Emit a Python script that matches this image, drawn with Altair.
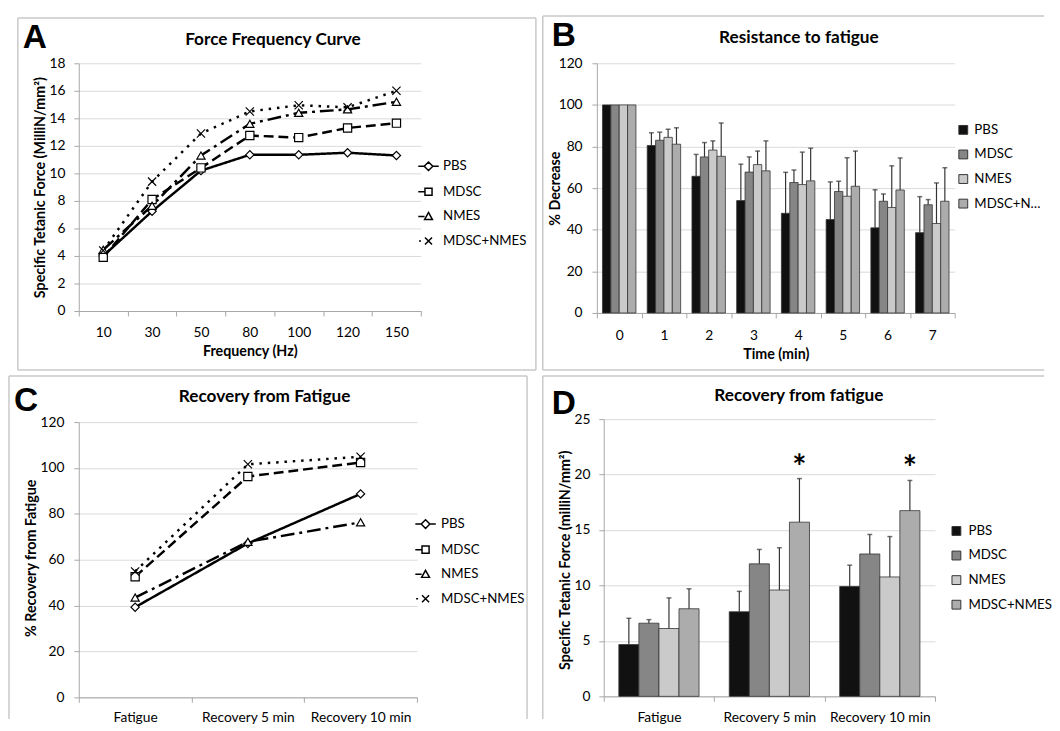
import altair as alt
import pandas as pd

FONT = "Lato"
LETTER_FONT = "Liberation Sans"
AXIS_GRAY = "#a6a6a6"
GRID_GRAY = "#d9d9d9"
FRAME_GRAY = "#c8c8c8"
INK = "#333333"

SERIES = ["PBS", "MDSC", "NMES", "MDSC+NMES"]

# ---------------- Panel A : Force Frequency Curve ----------------
A_FREQ = ["10", "30", "50", "80", "100", "120", "150"]
A_PBS = [4.0, 7.25, 10.2, 11.35, 11.35, 11.5, 11.3]
A_MDSC = [3.9, 8.1, 10.4, 12.75, 12.6, 13.3, 13.65]
A_NMES = [4.45, 7.65, 11.3, 13.6, 14.4, 14.65, 15.2]
A_COMBO = [4.4, 9.4, 12.9, 14.5, 14.95, 14.8, 16.0]

# ---------------- Panel B : Resistance to fatigue ----------------
B_TIME = ["0", "1", "2", "3", "4", "5", "6", "7"]
B_PBS = [100, 80.5, 65.7, 54.0, 47.9, 44.9, 40.9, 38.6]
B_PBS_SD = [0, 6.1, 10.5, 17.5, 19.7, 18.1, 18.3, 17.3]
B_MDSC = [100, 83.0, 75.0, 67.7, 62.7, 58.4, 53.7, 52.0]
B_MDSC_SD = [0, 3.9, 6.9, 7.3, 6.0, 4.9, 3.5, 2.5]
B_NMES = [100, 84.4, 78.3, 71.3, 61.7, 56.1, 50.7, 43.0]
B_NMES_SD = [0, 3.9, 4.4, 6.5, 15.6, 18.5, 20.0, 19.5]
B_COMBO = [100, 81.1, 75.3, 68.3, 63.5, 60.9, 59.1, 53.7]
B_COMBO_SD = [0, 7.9, 16.0, 14.4, 15.7, 16.9, 15.4, 16.1]

# ---------------- Panel C : Recovery from Fatigue (%) ----------------
C_PHASE = ["Fatigue", "Recovery 5 min", "Recovery 10 min"]
C_PBS = [39.3, 67.1, 88.7]
C_MDSC = [52.6, 96.3, 102.4]
C_NMES = [43.5, 67.8, 76.3]
C_COMBO = [54.9, 101.6, 104.9]

# ---------------- Panel D : Recovery from fatigue (force) ----------------
D_PHASE = ["Fatigue", "Recovery 5 min", "Recovery 10 min"]
D_PBS = [4.67, 7.63, 9.91]
D_PBS_SD = [2.37, 1.84, 1.92]
D_MDSC = [6.6, 11.95, 12.84]
D_MDSC_SD = [0.32, 1.30, 1.76]
D_NMES = [6.12, 9.59, 10.77]
D_NMES_SD = [2.76, 3.81, 3.64]
D_COMBO = [7.9, 15.71, 16.75]
D_COMBO_SD = [1.80, 3.93, 2.72]
D_COMBO_STAR = ["", "*", "*"]

BAR_COLORS = ["#111111", "#868686", "#cacaca", "#acacac"]
DASHES = [[1, 0], [10, 5], [14, 5, 3, 5], [2.5, 6]]
POINT_SHAPES = ["diamond", "square", "triangle-up", "M-1,-1L1,1M1,-1L-1,1"]
LEGEND_PATHS = [
    "M-2.6,0H-1.1M1.1,0H2.6M0,-1.1L1.1,0L0,1.1L-1.1,0Z",
    "M-2.6,0H-0.9M-0.9,-0.9H0.9V0.9H-0.9Z",
    "M-2.6,0H-1M0,-1L1,0.8H-1Z",
    "M-2.4,0H-1.9M-0.9,-0.9L0.9,0.9M0.9,-0.9L-0.9,0.9",
]

TICK_FS = 14
LEG_FS = 13.5
TITLE_FS = 17.5
AXT_FS = 14.5


def long_frame(cat_name, cats, values, sds=None):
    rows = []
    for i, s in enumerate(SERIES):
        for j, c in enumerate(cats):
            r = {cat_name: c, "series": s, "value": values[i][j]}
            if sds is not None:
                r["sd"] = sds[i][j]
            rows.append(r)
    return pd.DataFrame(rows)


dfA = long_frame("freq", A_FREQ, [A_PBS, A_MDSC, A_NMES, A_COMBO])
dfB = long_frame("time", B_TIME, [B_PBS, B_MDSC, B_NMES, B_COMBO],
                 [B_PBS_SD, B_MDSC_SD, B_NMES_SD, B_COMBO_SD])
dfC = long_frame("phase", C_PHASE, [C_PBS, C_MDSC, C_NMES, C_COMBO])
dfD = long_frame("phase", D_PHASE, [D_PBS, D_MDSC, D_NMES, D_COMBO],
                 [D_PBS_SD, D_MDSC_SD, D_NMES_SD, D_COMBO_SD])
dfStar = pd.DataFrame({"phase": D_PHASE, "series": SERIES[3], "value": D_COMBO,
                       "sd": D_COMBO_SD, "star": D_COMBO_STAR})

ONE = pd.DataFrame({"k": [0]})


def frame(left, top, right, bottom, sides):
    base = alt.Chart(ONE).mark_rule(color=FRAME_GRAY, strokeWidth=1.5)
    out = []
    if "top" in sides:
        out.append(base.encode(x=alt.value(left), x2=alt.value(right), y=alt.value(top)))
    if "bottom" in sides:
        out.append(base.encode(x=alt.value(left), x2=alt.value(right), y=alt.value(bottom)))
    if "left" in sides:
        out.append(base.encode(x=alt.value(left), y=alt.value(top), y2=alt.value(bottom)))
    if "right" in sides:
        out.append(base.encode(x=alt.value(right), y=alt.value(top), y2=alt.value(bottom)))
    return out


def text_at(text, x, y, size, font=FONT, align="left"):
    return alt.Chart(ONE).mark_text(
        text=text, font=font, fontSize=size, fontWeight="bold", align=align,
        baseline="alphabetic", color="black"
    ).encode(x=alt.value(x), y=alt.value(y))


def x_axis(label_pad, title_y=None):
    kw = dict(tickBand="extent", grid=False, domainColor=AXIS_GRAY, tickColor=AXIS_GRAY,
              tickSize=5, labelAngle=0, labelFont=FONT, labelFontSize=TICK_FS, labelColor="black",
              labelPadding=label_pad, titleFont=FONT, titleFontSize=AXT_FS, titleFontWeight="bold",
              titleColor="black")
    if title_y is not None:
        kw.update(titleY=title_y, titleBaseline="alphabetic")
    return alt.Axis(**kw)


def y_axis(values, label_pad, title_x, title_y):
    return alt.Axis(values=values, grid=True, gridColor=GRID_GRAY, domainColor=AXIS_GRAY,
                    tickColor=AXIS_GRAY, tickSize=5, labelFont=FONT, labelFontSize=TICK_FS,
                    labelColor="black", labelPadding=label_pad, titleFont=FONT,
                    titleFontSize=AXT_FS, titleFontWeight="bold", titleColor="black",
                    titleX=title_x, titleY=title_y, titleBaseline="middle")


def line_legend(lx, ly, loff):
    return alt.Legend(title=None, orient="none", legendX=lx, legendY=ly, direction="vertical",
                      symbolSize=64, symbolStrokeWidth=1.5, symbolStrokeColor="black",
                      labelFont=FONT, labelFontSize=LEG_FS,
                      labelColor="black", labelOffset=loff, rowPadding=10, padding=0)


def bar_legend(lx, ly, loff, limit):
    return alt.Legend(title=None, orient="none", legendX=lx, legendY=ly, direction="vertical",
                      symbolType="square", symbolSize=81, symbolStrokeColor=INK,
                      symbolStrokeWidth=1, labelFont=FONT, labelFontSize=LEG_FS,
                      labelColor="black", labelOffset=loff, rowPadding=10, padding=0,
                      labelLimit=limit)


def line_panel(df, x_enc, y_enc, legend):
    lines = alt.Chart(df).mark_line(color="black", strokeWidth=2.5).encode(
        x=x_enc, y=y_enc,
        strokeDash=alt.StrokeDash("series:N", scale=alt.Scale(domain=SERIES, range=DASHES), legend=None),
    )
    points = alt.Chart(df).mark_point(filled=True, fill="white", stroke="black", strokeWidth=1.2,
                                      size=70, opacity=1).encode(
        x=x_enc, y=y_enc,
        shape=alt.Shape("series:N", scale=alt.Scale(domain=SERIES, range=POINT_SHAPES), legend=None),
    )
    leg = alt.Chart(df).transform_filter("false").mark_point(
        filled=False, color="black", strokeWidth=1.5, opacity=1
    ).encode(
        shape=alt.Shape("series:N", scale=alt.Scale(domain=SERIES, range=LEGEND_PATHS), legend=legend)
    )
    return [lines, points, leg]


def bar_panel(df, x_enc, xo_enc, y_title, y_scale, y_axis_obj, legend):
    bars = alt.Chart(df).mark_bar(stroke=INK, strokeWidth=0.8).encode(
        x=x_enc, xOffset=xo_enc,
        y=alt.Y("value:Q", title=y_title, scale=y_scale, axis=y_axis_obj),
        color=alt.Color("series:N", scale=alt.Scale(domain=SERIES, range=BAR_COLORS), legend=legend),
    )
    err_base = alt.Chart(df).transform_filter("datum.sd > 0").transform_calculate(
        top="datum.value + datum.sd")
    err = err_base.mark_rule(color=INK, strokeWidth=1.2).encode(
        x=x_enc, xOffset=xo_enc,
        y=alt.Y("value:Q", title=y_title, scale=y_scale, axis=y_axis_obj), y2="top:Q",
    )
    cap = err_base.mark_tick(color=INK, thickness=1.5, size=5).encode(
        x=x_enc, xOffset=xo_enc,
        y=alt.Y("top:Q", title=y_title, scale=y_scale, axis=y_axis_obj),
    )
    return [bars, err, cap]


# ---------------- Panel A ----------------
A_W, A_H = 348, 252
xA = alt.X("freq:N", sort=A_FREQ, title="Frequency (Hz)",
           scale=alt.Scale(type="band", paddingInner=0, paddingOuter=0), axis=x_axis(10, 45.5))
yA = alt.Y("value:Q", title="Specific Tetanic Force (MilliN/mm²)",
           scale=alt.Scale(domain=[0, 18], nice=False), axis=y_axis(list(range(0, 19, 2)), 9, -39, 126))
panelA = alt.layer(
    *frame(-62, -46, 465, 312, ["top", "bottom", "left", "right"]),
    text_at("A", -57, -16, 34, font=LETTER_FONT),
    text_at("Force Frequency Curve", 197.5, -19, TITLE_FS, align="center"),
    *line_panel(dfA, xA, yA, line_legend(349, 98, 8)),
).resolve_scale(shape="independent").properties(width=A_W, height=A_H)

# ---------------- Panel B ----------------
B_W, B_H = 364, 254
xB = alt.X("time:N", sort=B_TIME, title="Time (min)",
           scale=alt.Scale(paddingInner=0, paddingOuter=0), axis=x_axis(11, 46))
xoB = alt.XOffset("series:N", sort=SERIES,
                  scale=alt.Scale(domain=SERIES, paddingInner=0, paddingOuter=0.676))
panelB = alt.layer(
    *frame(-55, -48, 455, 312, ["top", "bottom", "left"]),
    text_at("B", -46, -18, 34, font=LETTER_FONT),
    text_at("Resistance to fatigue", 205.5, -21, TITLE_FS, align="center"),
    *bar_panel(dfB, xB, xoB, "% Decrease", alt.Scale(domain=[0, 120], nice=False),
               y_axis(list(range(0, 121, 20)), 10, -42, 127), bar_legend(366, 61, 4.5, 75)),
).properties(width=B_W, height=B_H)

# ---------------- Panel C ----------------
C_W, C_H = 344, 280
xC = alt.X("phase:N", sort=C_PHASE, title=None,
           scale=alt.Scale(type="band", paddingInner=0, paddingOuter=0), axis=x_axis(9))
yC = alt.Y("value:Q", title="% Recovery from Fatigue",
           scale=alt.Scale(domain=[0, 120], nice=False), axis=y_axis(list(range(0, 121, 20)), 10, -48, 138))
panelC = alt.layer(
    *frame(-71, -47, 456, 302, ["top", "left", "right"]),
    text_at("C", -66, -11, 34, font=LETTER_FONT),
    text_at("Recovery from Fatigue", 189, -20, TITLE_FS, align="center"),
    *line_panel(dfC, xC, yC, line_legend(346, 97, 9)),
).resolve_scale(shape="independent").properties(width=C_W, height=C_H)

# ---------------- Panel D ----------------
D_W, D_H = 337, 282
xD = alt.X("phase:N", sort=D_PHASE, title=None,
           scale=alt.Scale(paddingInner=0, paddingOuter=0), axis=x_axis(10))
xoD = alt.XOffset("series:N", sort=SERIES,
                  scale=alt.Scale(domain=SERIES, paddingInner=0, paddingOuter=0.753))
yD_title = "Specific Tetanic Force (milliN/mm²)"
yD_scale = alt.Scale(domain=[0, 25], nice=False)
yD_axis = y_axis(list(range(0, 26, 5)), 9, -39, 143)
starD = alt.Chart(dfStar).transform_filter("datum.star != ''").transform_calculate(
    top="datum.value + datum.sd"
).mark_text(font=FONT, fontSize=34, fontWeight="bold", baseline="alphabetic", dy=0,
            color="black").encode(
    x=xD, xOffset=xoD, y=alt.Y("top:Q", title=yD_title, scale=yD_scale, axis=yD_axis),
    text="star:N",
)
panelD = alt.layer(
    *frame(-62, -44, 448, 305, ["top", "left"]),
    text_at("D", -53, -5, 34, font=LETTER_FONT),
    text_at("Recovery from fatigue", 198.5, -18, TITLE_FS, align="center"),
    *bar_panel(dfD, xD, xoD, yD_title, yD_scale, yD_axis, bar_legend(352, 107, 5.5, 96)),
    starD,
).properties(width=D_W, height=D_H)

chart = alt.concat(
    panelA, panelB, panelC, panelD, columns=2, spacing={"row": 4, "column": 5},
    bounds="full", align="none"
).resolve_scale(
    x="independent", y="independent", color="independent", shape="independent",
    strokeDash="independent", xOffset="independent"
).resolve_legend(
    color="independent", shape="independent", strokeDash="independent"
).properties(
    padding={"left": 0, "top": 1, "right": 0, "bottom": 0}, background="white"
).configure_view(strokeWidth=0)

chart.save("out.html", embed_options={"renderer": "svg", "actions": False})
